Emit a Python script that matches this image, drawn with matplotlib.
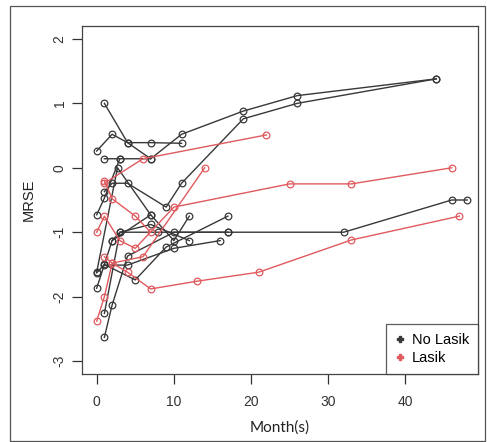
import matplotlib
matplotlib.use("Agg")
import matplotlib.pyplot as plt
from matplotlib.patches import Rectangle

# ---- data: each subject's months and MRSE ----
nolasik_months = [
    [0, 2, 4, 7, 11],
    [1, 4, 7],
    [1, 3, 7, 11, 19, 26, 44],
    [0, 1, 3],
    [1, 2, 4, 9, 11, 19, 26, 44],
    [0, 2, 3, 8, 17, 32, 46, 48],
    [1, 2, 4, 10, 17],
    [1, 4, 10, 16],
    [0, 1, 5, 9, 17],
    [1, 3, 7, 12],
    [2, 7, 10, 12],
    [0, 2.7, 7],
]
nolasik_mrse = [
    [0.26, 0.52, 0.39, 0.39, 0.38],
    [1.0, 0.39, 0.14],
    [0.14, 0.14, 0.14, 0.52, 0.88, 1.12, 1.38],
    [-0.73, -0.47, 0.14],
    [-0.37, -0.24, -0.24, -0.61, -0.24, 0.76, 1.0, 1.38],
    [-1.87, -1.13, -1.0, -1.0, -1.0, -1.0, -0.5, -0.5],
    [-2.63, -2.13, -1.37, -1.0, -1.0],
    [-1.51, -1.51, -1.25, -1.13],
    [-1.63, -1.5, -1.74, -1.23, -0.75],
    [-2.26, -1.0, -0.88, -1.13],
    [-1.13, -0.73, -1.13, -0.75],
    [-1.62, 0.0, -0.73],
]

lasik_months = [
    [0, 1, 2, 4, 7, 13, 21, 33, 47],
    [0, 1, 3, 5, 10, 25, 33, 46],
    [1, 2, 5, 7],
    [1, 6, 22],
    [1, 2, 6, 14],
]
lasik_mrse = [
    [-2.38, -2.0, -1.48, -1.62, -1.88, -1.76, -1.62, -1.12, -0.75],
    [-1.0, -0.75, -1.13, -1.25, -0.61, -0.25, -0.25, 0.0],
    [-0.2, -0.48, -0.75, -1.0],
    [-0.24, 0.14, 0.51],
    [-1.38, -1.48, -1.38, 0.0],
]

x_ticks = [0, 10, 20, 30, 40]
y_ticks = [-3, -2, -1, 0, 1, 2]
legend_labels = ["No Lasik", "Lasik"]

BLACK = "#383838"
RED = "#e05a5e"

plt.rcParams["font.family"] = ["Liberation Sans", "DejaVu Sans"]

fig = plt.figure(figsize=(4.87, 4.42), dpi=100)
ax = fig.add_axes([82 / 487, 1 - 374 / 442, (478 - 82) / 487, (374 - 26) / 442])

def draw(months, vals, col):
    for m, v in zip(months, vals):
        ax.plot(m, v, color=col, lw=1.0, marker="o", ms=4.8,
                mfc="none", mec=col, mew=0.9)

draw(nolasik_months, nolasik_mrse, BLACK)
draw(lasik_months, lasik_mrse, RED)

ax.set_xlim(-1.9, 49.4)
ax.set_ylim(-3.2, 2.2)
ax.set_xticks(x_ticks)
ax.set_yticks(y_ticks)
ax.set_yticklabels([str(t) for t in y_ticks], rotation=90, va="center")
ax.tick_params(direction="out", length=7, width=0.9, colors="#333333",
               labelsize=10)
ax.tick_params(axis="y", pad=4)
ax.tick_params(axis="x", pad=8)
for s in ax.spines.values():
    s.set_color("#444444")
    s.set_linewidth(0.9)
ax.set_xlabel("Month(s)", fontsize=11, labelpad=8, color="#222222",
              family=["Lato", "DejaVu Sans"])
ax.set_ylabel("MRSE", fontsize=10.5, labelpad=12, color="#222222")

h1 = ax.plot([], [], ls="none", marker="P", color=BLACK, ms=5)[0]
h2 = ax.plot([], [], ls="none", marker="P", color=RED, ms=5)[0]
leg = ax.legend([h1, h2], legend_labels, loc="lower right", fontsize=10.5,
                frameon=True, fancybox=False, borderaxespad=0,
                handlelength=0.6, handletextpad=0.55, borderpad=0.6,
                labelspacing=0.3)
leg.get_frame().set_edgecolor("#333333")
leg.get_frame().set_linewidth(0.9)

fig.add_artist(Rectangle((10 / 487, 1 / 442), (485 - 10) / 487, (435) / 442,
                         transform=fig.transFigure, fill=False,
                         ec="#555555", lw=0.9))

fig.savefig("out.png", dpi=100)
